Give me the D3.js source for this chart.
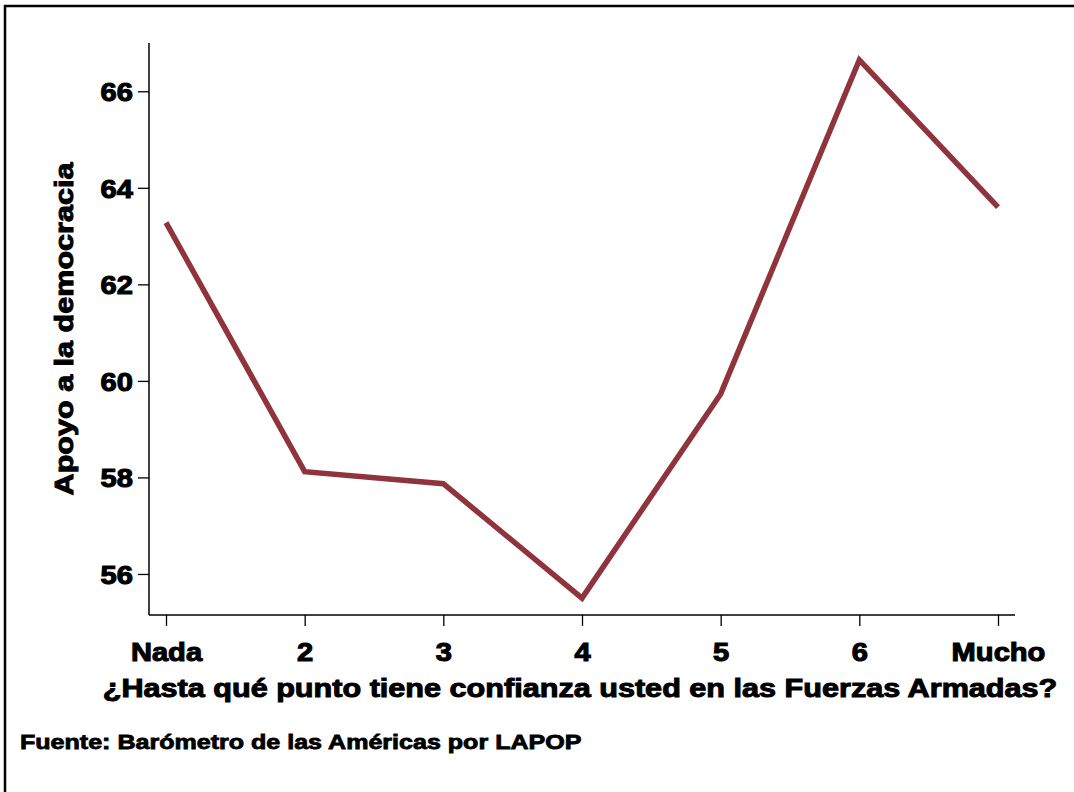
<!DOCTYPE html>
<html><head><meta charset="utf-8">
<script src="https://cdn.jsdelivr.net/npm/d3@7"></script>
<style>
html,body{margin:0;padding:0;background:#fff;}
text{font-family:"Liberation Sans",Arial,sans-serif;font-weight:bold;fill:#000;}
</style></head>
<body>
<svg id="c" width="1074" height="792"></svg>
<script>
const categories = ["Nada","2","3","4","5","6","Mucho"];
const values = [63.28, 58.12, 57.87, 55.5, 59.73, 66.65, 63.6];
const yTicks = [56, 58, 60, 62, 64, 66];
const yTitle = "Apoyo a la democracia";
const xTitle = "¿Hasta qué punto tiene confianza usted en las Fuerzas Armadas?";
const source = "Fuente: Barómetro de las Américas por LAPOP";

(function(){
const svg = d3.select("#c");
svg.append("rect").attr("x",0).attr("y",0).attr("width",1074).attr("height",792).attr("fill","#fff");
svg.append("path").attr("d","M5,792 V6 H1074").attr("fill","none").attr("stroke","#000").attr("stroke-width",2.5);

const pLeft = 149, pRight = 1015, pTop = 43, pBottom = 615;
const SX = 1.12;
const x = d3.scalePoint().domain(categories).range([166, 998]);
const y = d3.scaleLinear().domain([55.15, 67.0]).range([pBottom, pTop]);

const g = svg.append("g");
const yAx = g.append("g").attr("transform",`translate(${pLeft},0)`)
  .call(d3.axisLeft(y).tickValues(yTicks).tickSize(11).tickPadding(5).tickFormat(d3.format("d")));
yAx.select(".domain").attr("d",`M0,${pTop}V${pBottom}`).attr("stroke","#000").attr("stroke-width",1.5);
yAx.selectAll(".tick line").attr("stroke","#000").attr("stroke-width",1.3);
yAx.selectAll(".tick text").attr("font-size",26).attr("dy","0.36em").attr("x",-16/SX)
  .attr("transform",`scale(${SX},1)`).style("stroke","#000").style("stroke-width",1.1)
  .style("font-family","'Liberation Sans',Arial,sans-serif").style("font-weight","bold");

const xAx = g.append("g").attr("transform",`translate(0,${pBottom})`)
  .call(d3.axisBottom(x).tickSize(11).tickPadding(17));
xAx.select(".domain").attr("d",`M${pLeft},0H${pRight}`).attr("stroke","#000").attr("stroke-width",1.5);
xAx.selectAll(".tick line").attr("stroke","#000").attr("stroke-width",1.3);
xAx.selectAll(".tick text").attr("font-size",26).attr("transform",`scale(${SX},1)`)
  .style("stroke","#000").style("stroke-width",1.1)
  .style("font-family","'Liberation Sans',Arial,sans-serif").style("font-weight","bold");

const line = d3.line().x((d,i)=>x(categories[i])).y(d=>y(d));
svg.append("path").datum(values).attr("d",line).attr("fill","none")
  .attr("stroke","#8f343c").attr("stroke-width",5.5).attr("stroke-linejoin","miter");

function fitText(str, size, anchor, w, tx, ty, rot, sw){
  const gg = svg.append("g");
  const t = gg.append("text").attr("font-size",size).attr("text-anchor",anchor)
    .style("stroke","#000").style("stroke-width",sw).text(str);
  const l = t.node().getComputedTextLength();
  const k = w / l;
  gg.attr("transform",`translate(${tx},${ty}) rotate(${rot}) scale(${k},1)`);
}
fitText(xTitle, 26, "middle", 955, 580, 697, 0, 1.0);
fitText(yTitle, 26, "middle", 333, 73, 329, -90, 1.0);
fitText(source, 20, "start", 562, 20, 749, 0, 0.8);
})();
</script>
</body></html>
